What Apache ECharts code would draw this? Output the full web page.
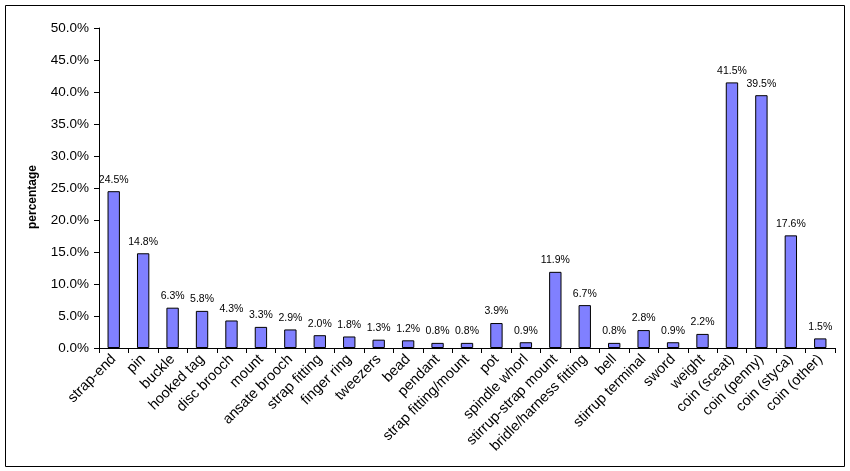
<!DOCTYPE html>
<html><head><meta charset="utf-8">
<script src="https://cdn.jsdelivr.net/npm/echarts@6/dist/echarts.min.js"></script>
<style>html,body{margin:0;padding:0;background:#fff}#c{width:850px;height:471px}</style>
</head><body><div id="c"></div>
<script>
const categories = ["strap-end","pin","buckle","hooked tag","disc brooch","mount","ansate brooch","strap fitting","finger ring","tweezers","bead","pendant","strap fitting/mount","pot","spindle whorl","stirrup-strap mount","bridle/harness fitting","bell","stirrup terminal","sword","weight","coin (sceat)","coin (penny)","coin (styca)","coin (other)"];
const values = [24.5,14.8,6.3,5.8,4.3,3.3,2.9,2.0,1.8,1.3,1.2,0.8,0.8,3.9,0.9,11.9,6.7,0.8,2.8,0.9,2.2,41.5,39.5,17.6,1.5];
const yTicks = [0,5,10,15,20,25,30,35,40,45,50];
const chart = echarts.init(document.getElementById('c'));
const font = 'Liberation Sans, Arial, sans-serif';
chart.setOption({
  animation:false,
  backgroundColor:'#fff',
  graphic:[{type:'rect',shape:{x:5.5,y:5.5,width:839,height:461},style:{fill:'none',stroke:'#000',lineWidth:1},z:-1}],
  grid:{left:99,right:15,top:28,bottom:123},
  xAxis:{type:'category',data:categories,
    axisLine:{lineStyle:{color:'#000',width:1}},
    axisTick:{show:true,alignWithLabel:false,length:5,lineStyle:{color:'#000'}},
    axisLabel:{rotate:45,interval:0,color:'#000',fontFamily:font,fontSize:14.5,margin:9}},
  yAxis:{type:'value',min:yTicks[0],max:yTicks[yTicks.length-1],interval:5,
    name:'percentage',nameLocation:'middle',nameGap:60,
    nameTextStyle:{fontFamily:font,fontSize:12,fontWeight:'bold',color:'#000',padding:[0,18,0,0]},
    axisLine:{show:true,lineStyle:{color:'#000'}},
    axisTick:{show:true,length:5,lineStyle:{color:'#000'}},
    splitLine:{show:false},
    axisLabel:{color:'#000',fontFamily:font,fontSize:13.5,margin:10,formatter:v=>v.toFixed(1)+'%'}},
  series:[{type:'bar',data:values,barCategoryGap:'58%',
    itemStyle:{color:'#8080FF',borderColor:'#000',borderWidth:1},
    label:{show:true,position:'top',distance:6,color:'#000',fontFamily:font,fontSize:10.5,formatter:p=>p.value.toFixed(1)+'%'}}]
});
</script></body></html>
